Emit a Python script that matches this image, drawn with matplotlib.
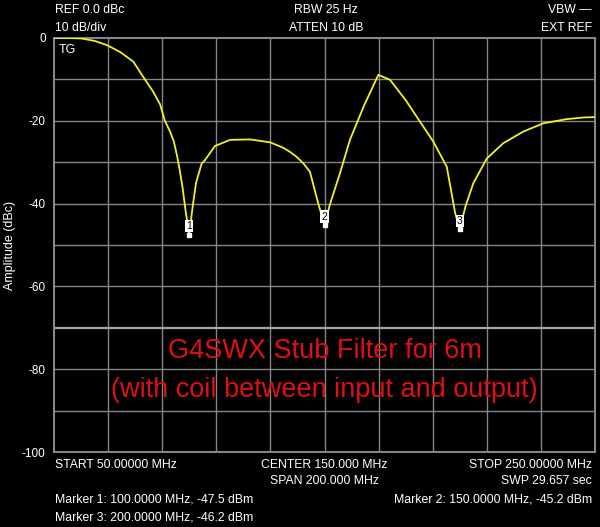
import matplotlib.pyplot as plt
import numpy as np

plt.rcParams['font.family'] = ['Liberation Sans', 'DejaVu Sans']
plt.rcParams['axes.unicode_minus'] = False

# trace (MHz, dBc)
freq = [50, 55, 60, 65, 69.5, 74.5, 79.3, 83.6, 86.5, 89.2, 91, 92.9, 94.3, 95.5,
        96.5, 97.5, 98.7, 100, 101.2, 102.5, 104.6, 105.8, 109.5, 115.1, 122.5,
        129.9, 134.7, 137.2, 139.7, 142.2, 144.6, 147.7, 150, 152, 155.7, 159.4,
        164.5, 169.9, 174.2, 180, 185.3, 190.2, 195.2, 198.3, 200, 202.1, 205,
        210, 216.1, 223.5, 230.9, 239.5, 245.7, 250]
level = [0, 0, -0.1, -0.7, -1.7, -3.4, -5.7, -10, -12.8, -16, -20, -22.6, -25, -28.5,
         -32, -36, -42, -47.5, -41, -35, -30.3, -29.5, -26.1, -24.6, -24.5,
         -25.2, -26.5, -27.5, -28.7, -30.3, -32.3, -40, -45.2, -40.2, -32.7, -24.6,
         -16.5, -8.9, -10.1, -15, -20.2, -25, -31.1, -42.3, -46.2, -40.7, -35.1,
         -29.1, -25.4, -22.6, -20.6, -19.6, -19.2, -19.1]

marker_freq = [100, 150, 200]
marker_level = [-47.5, -45.2, -46.2]
marker_ids = ["1", "2", "3"]

fig = plt.figure(figsize=(6, 5.27), dpi=100, facecolor='black')
ax = fig.add_axes([0.09, 0.1423, 0.9017, 0.7856], facecolor='black')

grid_col = '#858585'
for v in np.arange(70, 250, 20):
    ax.axvline(v, color=grid_col, lw=1.0, zorder=1)
for v in np.arange(-90, 0, 10):
    ax.axhline(v, color='#a8a8a8' if v == -70 else grid_col,
               lw=1.6 if v == -70 else 1.0, zorder=1)

ax.plot(freq, level, color='#f2f02a', lw=1.3, zorder=3)

ax.plot(marker_freq, marker_level, 's', color='white', ms=3, zorder=4)
for f, l, m in zip(marker_freq, marker_level, marker_ids):
    ax.annotate(m, (f, l), xytext=(0, 2.5), textcoords='offset points',
                ha='center', va='bottom', fontsize=7.5, color='black', zorder=5,
                bbox=dict(boxstyle='square,pad=0.12', fc='white', ec='none'))

ax.set_xlim(50, 250)
ax.set_ylim(-100, 0)
ax.set_xticks([])
ax.set_yticks(np.arange(-100, 1, 20))
ax.tick_params(axis='y', colors='white', labelsize=8.5, length=0, pad=6)
for s in ax.spines.values():
    s.set_color(grid_col)
    s.set_linewidth(1.5)
ax.set_ylabel('Amplitude (dBc)', color='white', fontsize=9, labelpad=4)

ax.text(0.008, 0.985, 'TG', transform=ax.transAxes, color='white',
        fontsize=9, ha='left', va='top')

ax.text(150, -75.5, 'G4SWX Stub Filter for 6m', color='#e01010', fontsize=19.5,
        ha='center', va='center')
ax.text(150, -85, '(with coil between input and output)', color='#e01010',
        fontsize=19.5, ha='center', va='center')

def label(x, y, s, ha='left'):
    fig.text(x / 600, 1 - y / 527, s, color='white', fontsize=8.8, ha=ha, va='center')

label(55, 10, 'REF 0.0 dBc')
label(55, 28, '10 dB/div')
label(326, 10, 'RBW 25 Hz', 'center')
label(326, 28, 'ATTEN 10 dB', 'center')
label(592, 10, 'VBW \u2014', 'right')
label(592, 28, 'EXT REF', 'right')
label(55, 465, 'START 50.00000 MHz')
label(324, 465, 'CENTER 150.000 MHz', 'center')
label(324, 481, 'SPAN 200.000 MHz', 'center')
label(592, 465, 'STOP 250.00000 MHz', 'right')
label(592, 481, 'SWP 29.657 sec', 'right')
label(55, 500, 'Marker 1: 100.0000 MHz, -47.5 dBm')
label(592, 500, 'Marker 2: 150.0000 MHz, -45.2 dBm', 'right')
label(55, 518, 'Marker 3: 200.0000 MHz, -46.2 dBm')

fig.savefig('out.png', dpi=100, facecolor='black')
